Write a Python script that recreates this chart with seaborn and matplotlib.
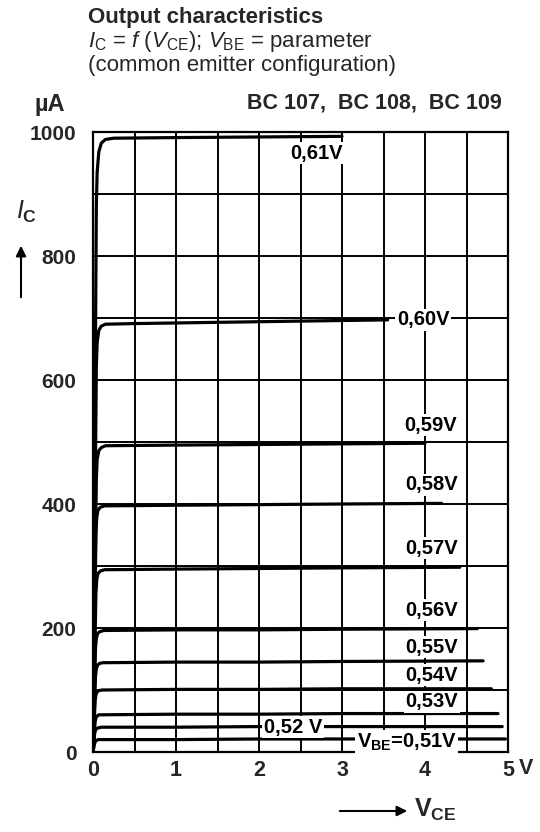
import matplotlib
matplotlib.use("Agg")
import matplotlib.pyplot as plt
import numpy as np
import pandas as pd
import seaborn as sns

# Base-emitter voltage labels for each output curve
vbe_labels = ["0,61V", "0,60V", "0,59V", "0,58V", "0,57V", "0,56V",
              "0,55V", "0,54V", "0,53V", "0,52 V", "0,51V"]

# Collector-emitter voltage (V) and collector current (uA) for every curve
vce_061 = [0, 0.04, 0.05, 0.07, 0.10, 0.15, 0.25, 1.0, 2.0, 3.0]
ic_061 = [0, 880, 935, 968, 982, 988, 990, 991, 992, 993]
vce_060 = [0, 0.04, 0.05, 0.07, 0.10, 0.15, 0.5, 1.5, 2.5, 3.55]
ic_060 = [0, 620, 660, 680, 687, 690, 691, 693, 695, 697]
vce_059 = [0, 0.04, 0.05, 0.07, 0.10, 0.15, 1.0, 2.0, 3.0, 4.0]
ic_059 = [0, 440, 472, 486, 491, 494, 495, 496, 497, 498]
vce_058 = [0, 0.035, 0.045, 0.06, 0.09, 0.14, 1.0, 2.0, 3.0, 4.2]
ic_058 = [0, 350, 378, 390, 395, 397, 398, 399, 400, 401]
vce_057 = [0, 0.035, 0.045, 0.06, 0.09, 0.14, 1.0, 2.0, 3.0, 4.42]
ic_057 = [0, 255, 278, 288, 292, 294, 295, 296, 297, 298]
vce_056 = [0, 0.03, 0.04, 0.055, 0.08, 0.13, 1.0, 2.0, 3.0, 4.63]
ic_056 = [0, 168, 183, 191, 194, 196, 197, 197, 198, 199]
vce_055 = [0, 0.03, 0.04, 0.055, 0.08, 0.12, 1.0, 2.0, 3.0, 4.7]
ic_055 = [0, 122, 134, 140, 143, 144, 145, 145, 146, 147]
vce_054 = [0, 0.025, 0.035, 0.05, 0.07, 0.11, 1.0, 2.0, 3.0, 4.8]
ic_054 = [0, 82, 92, 97, 99, 100, 101, 101, 102, 102]
vce_053 = [0, 0.025, 0.035, 0.05, 0.07, 0.10, 1.0, 2.0, 3.0, 4.88]
ic_053 = [0, 48, 55, 58, 60, 60, 61, 61, 62, 62]
vce_052 = [0, 0.02, 0.03, 0.045, 0.065, 0.10, 1.0, 2.0, 3.0, 4.93]
ic_052 = [0, 30, 35, 38, 39, 40, 40, 41, 41, 41]
vce_051 = [0, 0.02, 0.03, 0.045, 0.065, 0.10, 1.0, 2.0, 3.0, 4.97]
ic_051 = [0, 14, 17, 19, 20, 20, 20, 21, 21, 21]

curves_vce = [vce_061, vce_060, vce_059, vce_058, vce_057, vce_056,
              vce_055, vce_054, vce_053, vce_052, vce_051]
curves_ic = [ic_061, ic_060, ic_059, ic_058, ic_057, ic_056,
             ic_055, ic_054, ic_053, ic_052, ic_051]

x_ticks = [0, 1, 2, 3, 4, 5]
x_tick_labels = ["0", "1", "2", "3", "4", "5"]
y_ticks = [0, 200, 400, 600, 800, 1000]
y_tick_labels = ["0", "200", "400", "600", "800", "1000"]

frames = []
for lab, v, i in zip(vbe_labels, curves_vce, curves_ic):
    frames.append(pd.DataFrame({"VCE": v, "IC": i, "VBE": lab}))
df = pd.concat(frames, ignore_index=True)

sns.set_theme(style="white")
plt.rcParams["font.family"] = ["Liberation Sans", "DejaVu Sans"]
plt.rcParams["mathtext.fontset"] = "custom"
plt.rcParams["mathtext.rm"] = "Liberation Sans"
plt.rcParams["mathtext.it"] = "Liberation Sans:italic"
plt.rcParams["mathtext.bf"] = "Liberation Sans:bold"

fig = plt.figure(figsize=(5.4, 8.32), dpi=100)
W, H = 540, 832
ax = fig.add_axes([93 / W, 1 - 752 / H, 415 / W, 620 / H])

sns.lineplot(data=df, x="VCE", y="IC", hue="VBE", units="VBE", estimator=None,
             sort=False, palette=["black"] * len(vbe_labels), legend=False,
             linewidth=2.3, ax=ax, zorder=3)

ax.set_xlim(0, 5)
ax.set_ylim(0, 1000)
ax.set_xticks(x_ticks)
ax.set_xticks(np.arange(0, 5.01, 0.5), minor=True)
ax.set_yticks(y_ticks)
ax.set_yticks(np.arange(0, 1001, 100), minor=True)
ax.set_xticklabels(x_tick_labels, fontsize=15.5, fontweight="bold")
ax.set_yticklabels(y_tick_labels, fontsize=15, fontweight="bold")
ax.tick_params(axis="both", which="both", length=0)
ax.tick_params(axis="x", pad=6)
ax.tick_params(axis="y", pad=12)
ax.grid(True, which="both", color="black", linewidth=1.4)
ax.set_axisbelow(True)
for s in ax.spines.values():
    s.set_color("black")
    s.set_linewidth(1.6)
ax.set_xlabel("")
ax.set_ylabel("")

# curve labels, boxed in white so the grid breaks around them
label_pos = [(2.69, 966), (3.98, 697), (4.07, 527), (4.08, 431), (4.08, 329),
             (4.08, 229), (4.08, 169), (4.08, 124), (4.08, 81), (2.41, 40),
             (3.78, 16)]
for lab, (x, y) in zip(vbe_labels, label_pos):
    txt = lab
    if lab == "0,51V":
        txt = "$\\mathbf{V}_{\\mathbf{BE}}$=0,51V"
    ax.text(x, y, txt, ha="center", va="center", fontsize=14.5,
            fontweight="bold", color="black", zorder=5,
            bbox=dict(boxstyle="square,pad=0.08", fc="white", ec="none"))

# unit next to the last x tick
ax.text(5.13, -27, "V", ha="left", va="center", fontsize=15.5,
        fontweight="bold", clip_on=False)

# headings
fig.text(88 / W, 1 - 18 / H, "Output characteristics", fontsize=16,
         fontweight="bold", va="center", ha="left")
fig.text(88 / W, 1 - 42 / H,
         "$I_{\\mathrm{C}}$ = $f$ ($V_{\\mathrm{CE}}$); $V_{\\mathrm{BE}}$ = parameter",
         fontsize=16, va="center", ha="left")
fig.text(88 / W, 1 - 66 / H, "(common emitter configuration)", fontsize=16,
         va="center", ha="left")
fig.text(502 / W, 1 - 103 / H, "BC 107,  BC 108,  BC 109", fontsize=15.5,
         fontweight="bold", va="center", ha="right")
fig.text(50 / W, 1 - 104 / H, "µA", fontsize=17, fontweight="bold",
         va="center", ha="center")

# axis quantity labels with arrows
fig.text(27 / W, 1 - 212 / H, "$\\mathit{I}_{\\mathbf{C}}$", fontsize=18,
         va="center", ha="center")
fig.add_artist(matplotlib.patches.FancyArrowPatch(
    (21 / W, 1 - 300 / H), (21 / W, 1 - 243 / H), transform=fig.transFigure,
    arrowstyle="-|>,head_length=6,head_width=3", color="black", linewidth=1.5))
fig.add_artist(matplotlib.patches.FancyArrowPatch(
    (337 / W, 1 - 811 / H), (410 / W, 1 - 811 / H), transform=fig.transFigure,
    arrowstyle="-|>,head_length=6,head_width=3", color="black", linewidth=1.5))
fig.text(414 / W, 1 - 810 / H, "$\\mathbf{V}_{\\mathbf{CE}}$", fontsize=18,
         va="center", ha="left")

fig.savefig("out.png", dpi=100, facecolor="white")
